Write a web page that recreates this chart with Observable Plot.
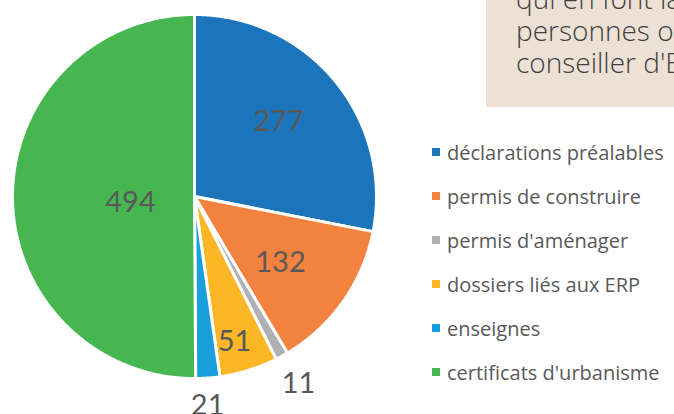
<!DOCTYPE html>
<html>
<head>
<meta charset="utf-8">
<script src="https://cdn.jsdelivr.net/npm/d3@7"></script>
<script src="https://cdn.jsdelivr.net/npm/@observablehq/plot@0.6"></script>
<style>
  html, body { margin: 0; padding: 0; background: #fff; width: 674px; height: 414px; overflow: hidden; }
  #wrap { position: relative; width: 674px; height: 414px; overflow: hidden; }
  #note { position: absolute; left: 486px; top: -40px; width: 260px; height: 147px; background: #ede0d4;
          font-family: "Open Sans", sans-serif; font-weight: 300; font-size: 28px; line-height: 32px; color: #404040;
          white-space: nowrap; box-sizing: border-box; padding: 22px 0 0 30px; }
  #legend { position: absolute; left: 432px; top: 130px; font-family: "Open Sans", sans-serif; font-size: 20px; color: #595959; }
  #legend .row { height: 44px; display: flex; align-items: center; white-space: nowrap; position: absolute; left: 0; }
  #legend .sw { width: 8px; height: 8px; margin-right: 7px; flex: none; }
</style>
</head>
<body>
<div id="wrap">
  <div id="chart"></div>
  <div id="note"></div>
  <div id="legend"></div>
</div>
<script>
const categories = ["déclarations préalables", "permis de construire", "permis d'aménager", "dossiers liés aux ERP", "enseignes", "certificats d'urbanisme"];
const values = [277, 132, 11, 51, 21, 494];
const colors = ["#1c74bb", "#f4823f", "#b0b1b4", "#fbb726", "#1a9fdb", "#46b650"];
// label placement (layout): radius as a fraction of the pie radius, and a small angular nudge in degrees
const labelRadius = [0.62, 0.596, 1.176, 0.826, 1.15, 0.353];
const labelNudge = [-2.4, 2.3, -0.4, 1.9, 0.6, -5.2];
const noteLines = ["qui en font la demande, des", "personnes ou entreprises", "conseiller d'Espace Info"];

const total = d3.sum(values);
let cum = 0;
const slices = categories.map((name, i) => {
  const a0 = cum / total * 2 * Math.PI;
  cum += values[i];
  const a1 = cum / total * 2 * Math.PI;
  return {name, value: values[i], a0, a1};
});

const pts = [];
for (const s of slices) {
  pts.push({name: s.name, x: 0, y: 0});
  const n = Math.max(2, Math.ceil((s.a1 - s.a0) / (Math.PI / 360)));
  for (let k = 0; k <= n; k++) {
    const a = s.a0 + (s.a1 - s.a0) * k / n;
    pts.push({name: s.name, x: Math.sin(a), y: Math.cos(a)});
  }
}
const labels = slices.map((s, i) => {
  const m = (s.a0 + s.a1) / 2 + labelNudge[i] * Math.PI / 180;
  return {label: String(s.value), x: labelRadius[i] * Math.sin(m), y: labelRadius[i] * Math.cos(m)};
});

const chart = Plot.plot({
  width: 674,
  height: 414,
  marginLeft: 12,
  marginRight: 298,
  marginTop: 14,
  marginBottom: 36,
  x: {domain: [-1, 1], axis: null},
  y: {domain: [-1, 1], axis: null},
  color: {domain: categories, range: colors},
  style: {background: "transparent"},
  marks: [
    Plot.line(pts, {x: "x", y: "y", z: "name", fill: "name", stroke: "white", strokeWidth: 3, curve: "linear-closed", strokeLinejoin: "miter"}),
    Plot.text(labels, {x: "x", y: "y", text: "label", fill: "#595959", fontSize: 29, fontFamily: "Lato, sans-serif"})
  ]
});
document.getElementById("chart").appendChild(chart);

document.getElementById("note").innerHTML = noteLines.map(t => `<div>${t}</div>`).join("");
const leg = document.getElementById("legend");
categories.forEach((c, i) => {
  const r = document.createElement("div");
  r.className = "row";
  r.style.top = (i * 44) + "px";
  r.innerHTML = `<span class="sw" style="background:${colors[i]}"></span><span>${c}</span>`;
  leg.appendChild(r);
});
</script>
</body>
</html>
